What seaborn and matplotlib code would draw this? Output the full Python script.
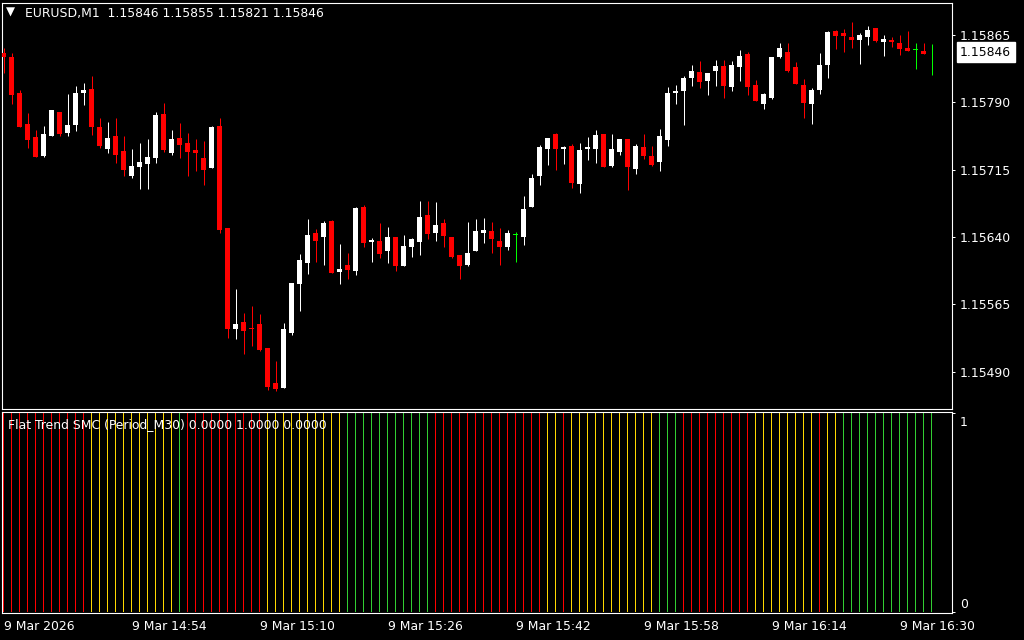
import numpy as np
import pandas as pd
import matplotlib
matplotlib.use("Agg")
import matplotlib.pyplot as plt
import seaborn as sns
from matplotlib.transforms import blended_transform_factory

# ---------------- data (prices in 1e-5 units) ----------------
symbol_title = "EURUSD,M1"
header_ohlc = "1.15846 1.15855 1.15821 1.15846"
indicator_title = "Flat Trend SMC (Period_M30) 0.0000 1.0000 0.0000"

open_pts = [115845, 115840, 115800, 115766, 115751, 115730, 115752, 115779, 115756, 115765,
            115800, 115805, 115762, 115738, 115752, 115736, 115708, 115718, 115721, 115728,
            115777, 115734, 115750, 115745, 115737, 115728, 115717, 115764, 115650, 115537,
            115545, 115539, 115543, 115516, 115477, 115472, 115533, 115588, 115611, 115644,
            115640, 115658, 115601, 115609, 115602, 115673, 115634, 115635, 115624, 115640,
            115608, 115629, 115634, 115664, 115644, 115656, 115640, 115620, 115609, 115624,
            115644, 115647, 115635, 115629, 115643, 115640, 115673, 115708, 115738, 115755,
            115738, 115741, 115699, 115738, 115738, 115755, 115719, 115735, 115749, 115716,
            115740, 115730, 115723, 115748, 115800, 115803, 115817, 115824, 115814, 115825,
            115830, 115807, 115829, 115844, 115809, 115788, 115795, 115840, 115846, 115829,
            115809, 115788, 115804, 115832, 115869, 115867, 115863, 115859, 115863, 115873,
            115857, 115859, 115856, 115851, 115849, 115847, 115846]
high_pts = [115850, 115845, 115804, 115778, 115759, 115764, 115781, 115779, 115799, 115808,
            115811, 115819, 115772, 115768, 115772, 115752, 115738, 115745, 115749, 115779,
            115789, 115759, 115767, 115756, 115749, 115747, 115764, 115772, 115650, 115582,
            115555, 115563, 115554, 115516, 115502, 115544, 115589, 115621, 115660, 115649,
            115658, 115659, 115632, 115622, 115673, 115676, 115639, 115656, 115651, 115640,
            115642, 115639, 115680, 115680, 115679, 115660, 115640, 115620, 115657, 115660,
            115661, 115657, 115650, 115648, 115646, 115686, 115710, 115742, 115750, 115756,
            115741, 115744, 115745, 115751, 115759, 115755, 115755, 115749, 115749, 115744,
            115755, 115741, 115760, 115807, 115809, 115819, 115832, 115836, 115823, 115837,
            115837, 115836, 115848, 115846, 115815, 115800, 115840, 115856, 115856, 115835,
            115816, 115806, 115845, 115869, 115871, 115872, 115879, 115867, 115875, 115873,
            115865, 115863, 115865, 115869, 115856, 115856, 115855]
low_pts = [115823, 115788, 115762, 115739, 115729, 115729, 115752, 115753, 115753, 115758,
           115787, 115754, 115739, 115734, 115722, 115708, 115706, 115693, 115694, 115722,
           115735, 115731, 115728, 115708, 115713, 115698, 115717, 115644, 115528, 115526,
           115510, 115519, 115513, 115470, 115468, 115472, 115531, 115558, 115599, 115612,
           115609, 115600, 115588, 115593, 115598, 115629, 115612, 115617, 115611, 115602,
           115608, 115618, 115620, 115638, 115635, 115629, 115617, 115593, 115608, 115624,
           115633, 115622, 115609, 115625, 115612, 115631, 115673, 115698, 115720, 115715,
           115721, 115695, 115689, 115726, 115722, 115718, 115718, 115731, 115692, 115710,
           115727, 115719, 115713, 115741, 115788, 115765, 115808, 115806, 115798, 115808,
           115795, 115803, 115814, 115798, 115792, 115783, 115794, 115839, 115824, 115810,
           115773, 115766, 115799, 115817, 115849, 115846, 115851, 115833, 115854, 115857,
           115842, 115852, 115843, 115847, 115827, 115844, 115821]
close_pts = [115840, 115798, 115763, 115748, 115729, 115755, 115781, 115755, 115765, 115800,
             115804, 115763, 115741, 115750, 115731, 115715, 115719, 115723, 115729, 115776,
             115737, 115749, 115742, 115735, 115734, 115715, 115763, 115648, 115537, 115543,
             115535, 115537, 115514, 115473, 115471, 115537, 115589, 115614, 115642, 115635,
             115656, 115600, 115604, 115603, 115672, 115633, 115637, 115621, 115640, 115608,
             115630, 115638, 115662, 115643, 115653, 115641, 115618, 115608, 115622, 115647,
             115648, 115638, 115629, 115644, 115643, 115671, 115706, 115740, 115750, 115738,
             115740, 115700, 115737, 115740, 115754, 115718, 115738, 115749, 115718, 115741,
             115730, 115720, 115752, 115800, 115803, 115817, 115825, 115813, 115823, 115830,
             115808, 115832, 115842, 115807, 115792, 115799, 115840, 115851, 115825, 115810,
             115789, 115804, 115832, 115868, 115864, 115864, 115859, 115865, 115871, 115858,
             115861, 115857, 115849, 115847, 115849, 115844, 115846]

# indicator state per bar: D = down (red), F = flat (yellow), U = up (green)
trend_codes = ("DDDDDDDDDDD" "FFFFFFFFFFF" "U" "DDDDDDDDDD" "FFFFFFFFFF" "UUUUUUUUUUU"
               "DDDDDDDDDDDDDD" "FF" "D" "FFFFFFFFFFF" "UUU" "DDDDDDDDD" "FFFFFFFF" "D" "FF"
               "UUUUUUUUUUUU")
indicator_value = 1.0

price_ticks = [1.15490, 1.15565, 1.15640, 1.15715, 1.15790, 1.15865]
last_price = 1.15846
time_tick_bars = [0, 16, 32, 48, 64, 80, 96, 112]
time_tick_labels = ["9 Mar 2026", "9 Mar 14:54", "9 Mar 15:10", "9 Mar 15:26",
                    "9 Mar 15:42", "9 Mar 15:58", "9 Mar 16:14", "9 Mar 16:30"]

# ---------------- styling ----------------
sns.set_theme(style="dark", rc={
    "figure.facecolor": "black", "axes.facecolor": "black",
    "axes.edgecolor": "white", "text.color": "white",
    "xtick.color": "white", "ytick.color": "white",
    "axes.grid": False,
})
plt.rcParams["font.family"] = ["DejaVu Sans"]
FS = 8.9

df = pd.DataFrame({
    "open": np.array(open_pts) / 1e5, "high": np.array(high_pts) / 1e5,
    "low": np.array(low_pts) / 1e5, "close": np.array(close_pts) / 1e5,
})
df["bar"] = np.arange(len(df))
state_names = {"D": "down", "F": "flat", "U": "up"}
df["state"] = [state_names[c] for c in trend_codes]
df["ind"] = indicator_value

W, H = 1024, 640
fig = plt.figure(figsize=(W / 100, H / 100), dpi=100, facecolor="black")
px = lambda l, t, r, b: [l / W, 1 - b / H, (r - l) / W, (b - t) / H]
ax = fig.add_axes(px(2, 2.5, 952, 409))
ax2 = fig.add_axes(px(2, 411.5, 952, 613))

x0 = -0.1875
x1 = x0 + 950 / 8

# ---------------- candles ----------------
up = df["close"] > df["open"]
dn = df["close"] < df["open"]
col = np.where(up, "#FFFFFF", np.where(dn, "#FF0000", "#00FF00"))
ax.vlines(df["bar"], df["low"], df["high"], colors=col, linewidth=0.72, zorder=2)
min_h = 0.0000095
body_lo = np.minimum(df["open"], df["close"])
body_h = np.abs(df["close"] - df["open"])
flat_body = body_h < min_h
body_lo = np.where(flat_body, (df["open"] + df["close"]) / 2 - min_h / 2, body_lo)
body_h = np.where(flat_body, min_h, body_h)
ax.bar(df["bar"], body_h, bottom=body_lo, width=0.625, color=col, linewidth=0, zorder=3)

ymin = 1.15865 - (409 - 35) * 0.000011139
ymax = 1.15865 + (35 - 2.5) * 0.000011139
ax.set_xlim(x0, x1)
ax.set_ylim(ymin, ymax)
ax.set_xticks([])
ax.yaxis.tick_right()
ax.set_yticks(price_ticks)
ax.set_yticklabels([f"{p:.5f}" for p in price_ticks], fontsize=FS, color="white")
ax.tick_params(axis="y", length=2.2, width=0.72, pad=3.4, color="white")
for s in ax.spines.values():
    s.set_color("white")
    s.set_linewidth(0.8)
tr = blended_transform_factory(ax.transAxes, ax.transData)
ax.text(1.0085, last_price, f"{last_price:.5f}", transform=tr, fontsize=FS, color="black",
        va="center", ha="left", zorder=10, clip_on=False,
        bbox=dict(boxstyle="square,pad=0.27", facecolor="white", edgecolor="white"))

fig.text(5.5 / W, 1 - 12.5 / H, "\u25BC", fontsize=8.5, color="white", va="center", ha="left")
fig.text(25 / W, 1 - 13.5 / H, f"{symbol_title}  {header_ohlc}", fontsize=FS,
         color="white", va="center", ha="left")

# ---------------- indicator panel ----------------
palette = {"down": "#FF0000", "flat": "#FFD700", "up": "#32CD32"}
sns.barplot(data=df, x="bar", y="ind", hue="state", palette=palette, native_scale=True,
            width=0.125, dodge=False, saturation=1, linewidth=0, legend=False, ax=ax2)
ax2.set_xlim(x0, x1)
ax2.set_ylim(-1 / 199, 1 + 1.5 / 199)
ax2.set_xlabel("")
ax2.set_ylabel("")
ax2.yaxis.tick_right()
ax2.set_yticks([0, 1])
ax2.set_yticklabels([])
ax2.tick_params(axis="y", length=2.2, width=0.72, color="white")
ax2.set_xticks(time_tick_bars)
ax2.set_xticklabels(time_tick_labels, fontsize=FS, color="white", ha="left")
ax2.tick_params(axis="x", length=2.2, width=0.72, pad=2.5, color="white")
for s in ax2.spines.values():
    s.set_color("white")
    s.set_linewidth(0.8)
tr2 = blended_transform_factory(ax2.transAxes, ax2.transData)
ax2.text(1.0085, 1 - 9 / 199, "1", transform=tr2, fontsize=FS, color="white", va="center",
         ha="left", clip_on=False)
ax2.text(1.0085, 8 / 199, "0", transform=tr2, fontsize=FS, color="white", va="center",
         ha="left", clip_on=False)
ax2.text(6 / 950, 1 - 13.5 / 201.5, indicator_title, transform=ax2.transAxes, fontsize=FS,
         color="white", va="center", ha="left", zorder=10)

fig.savefig("out.png", dpi=100, facecolor="black")
